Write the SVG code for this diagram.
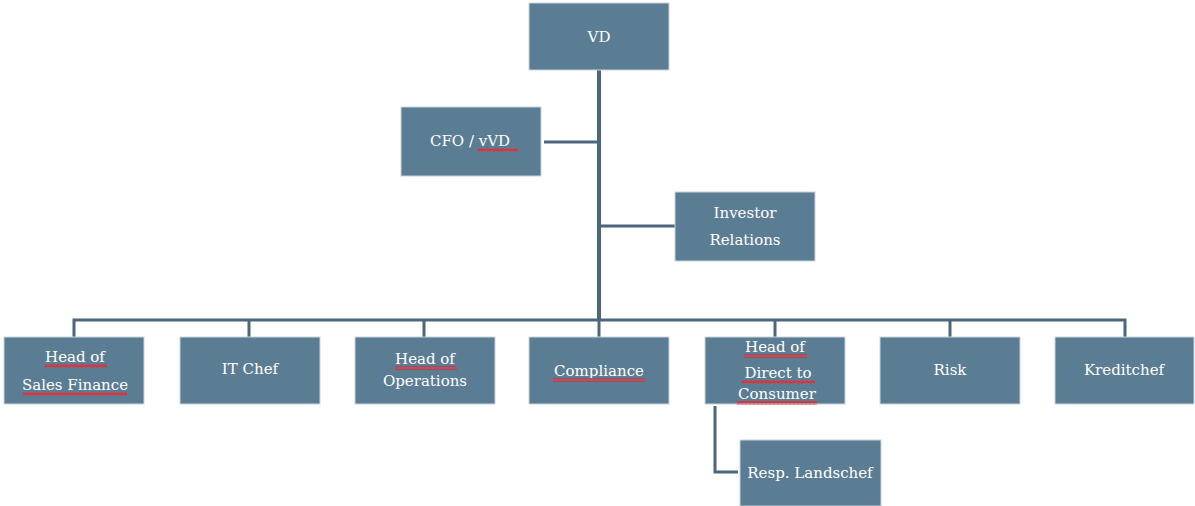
<svg xmlns="http://www.w3.org/2000/svg" width="1195" height="506" viewBox="0 0 1195 506">
<style>
.box{fill:#5b7d93;stroke:#c9d3da;stroke-width:1}
.t{font-family:"DejaVu Serif","Liberation Serif",serif;font-size:15px;fill:#ffffff;text-anchor:middle}
.ln{stroke:#4b677c;fill:none;stroke-width:3;stroke-linecap:butt}
.trunk{stroke:#4b677c;fill:none;stroke-width:4}
</style>
<defs>
<pattern id="wave" width="4" height="4" patternUnits="userSpaceOnUse">
<path d="M0,3 L1,1 L2,3 L3,1 L4,3" fill="none" stroke="#e0303a" stroke-width="1.2"/>
</pattern>
</defs>
<rect width="1195" height="506" fill="#ffffff"/>
<g id="connectors">
<line class="trunk" x1="599" y1="70" x2="599" y2="321"/>
<line class="ln" x1="544" y1="142" x2="599" y2="142"/>
<line class="ln" x1="599" y1="226" x2="675" y2="226"/>
<polyline class="ln" points="74,337 74,320 1125,320 1125,337"/>
<line class="ln" x1="249" y1="320" x2="249" y2="337"/>
<line class="ln" x1="424" y1="320" x2="424" y2="337"/>
<line class="ln" x1="599" y1="320" x2="599" y2="337"/>
<line class="ln" x1="775" y1="320" x2="775" y2="337"/>
<line class="ln" x1="950" y1="320" x2="950" y2="337"/>
<polyline class="ln" points="715,406 715,472 738,472"/>
</g>
<g id="vd">
<rect class="box" x="529" y="3" width="140" height="67"/>
<text class="t" x="599" y="42">VD</text>
</g>
<g id="cfo">
<rect class="box" x="401" y="107" width="140" height="69"/>
<text class="t" x="470" y="146">CFO / vVD</text>
<rect x="478" y="148" width="40" height="4" fill="url(#wave)"/>
</g>
<g id="ir">
<rect class="box" x="675" y="192" width="140" height="69"/>
<text class="t" x="745" y="218">Investor</text>
<text class="t" x="745" y="245">Relations</text>
</g>
<g id="sales">
<rect class="box" x="4" y="337" width="140" height="67"/>
<text class="t" x="75" y="362">Head of</text>
<text class="t" x="75" y="390">Sales Finance</text>
<rect x="45" y="364" width="62" height="4" fill="url(#wave)"/>
<rect x="23" y="392" width="104" height="4" fill="url(#wave)"/>
</g>
<g id="it">
<rect class="box" x="180" y="337" width="140" height="67"/>
<text class="t" x="250" y="374">IT Chef</text>
</g>
<g id="ops">
<rect class="box" x="355" y="337" width="140" height="67"/>
<text class="t" x="425" y="364">Head of</text>
<text class="t" x="425" y="386">Operations</text>
<rect x="395" y="366" width="62" height="4" fill="url(#wave)"/>
</g>
<g id="compliance">
<rect class="box" x="529" y="337" width="140" height="67"/>
<text class="t" x="599" y="376">Compliance</text>
<rect x="553" y="378" width="92" height="4" fill="url(#wave)"/>
</g>
<g id="dtc">
<rect class="box" x="705" y="337" width="140" height="67"/>
<text class="t" x="775" y="352">Head of</text>
<text class="t" x="778" y="378">Direct to</text>
<text class="t" x="777" y="399">Consumer</text>
<rect x="744" y="354" width="63" height="4" fill="url(#wave)"/>
<rect x="742" y="380" width="73" height="4" fill="url(#wave)"/>
<rect x="737" y="401" width="80" height="4" fill="url(#wave)"/>
</g>
<g id="risk">
<rect class="box" x="880" y="337" width="140" height="67"/>
<text class="t" x="950" y="375">Risk</text>
</g>
<g id="kredit">
<rect class="box" x="1055" y="337" width="139" height="67"/>
<text class="t" x="1124" y="375">Kreditchef</text>
</g>
<g id="resp">
<rect class="box" x="740" y="440" width="141" height="66"/>
<text class="t" x="810" y="478">Resp. Landschef</text>
</g>
</svg>
